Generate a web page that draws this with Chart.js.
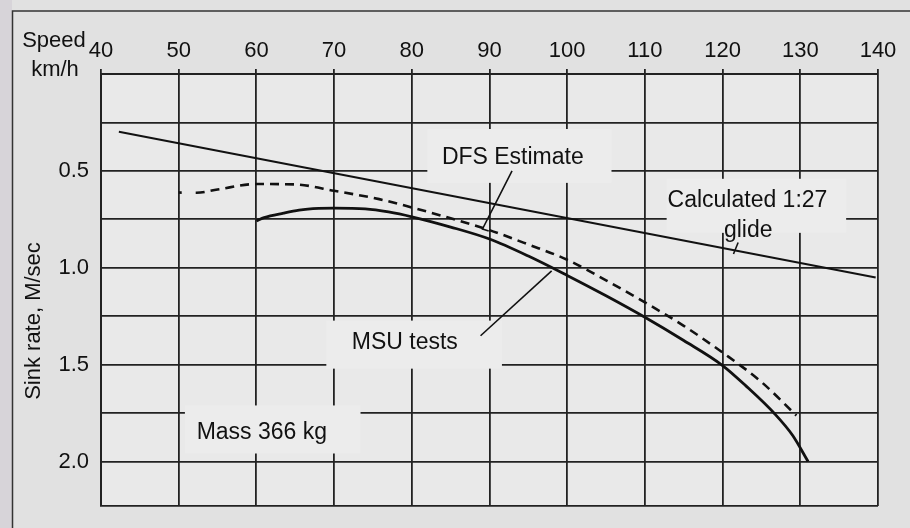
<!DOCTYPE html>
<html>
<head>
<meta charset="utf-8">
<title>Sink rate against speed</title>
<script src="https://cdn.jsdelivr.net/npm/chart.js@4"></script>
<style>
  html, body { margin: 0; padding: 0; background: #e1e1e1; }
  canvas { display: block; }
</style>
</head>
<body>
<canvas id="myChart" width="910" height="528"></canvas>
<script>
// tick labels
const speedTicks = [40, 50, 60, 70, 80, 90, 100, 110, 120, 130, 140];
const sinkTicks = [0.5, 1.0, 1.5, 2.0];

// MSU tests (solid curve)
const msuSpeed = [60, 61, 63.5, 65.5, 68, 70, 74, 77, 80, 85, 90, 95, 100, 105, 110, 115, 120, 123, 126.7, 129, 131];
const msuSink = [0.758, 0.741, 0.718, 0.703, 0.694, 0.692, 0.696, 0.712, 0.737, 0.79, 0.852, 0.94, 1.04, 1.145, 1.256, 1.376, 1.505, 1.61, 1.754, 1.865, 2.0];

// DFS estimate (dashed curve)
const dfsSpeed = [50, 52.3, 55, 60, 65, 70, 75.8, 80, 85, 90, 95, 100, 105, 110, 115, 120, 125, 129.5];
const dfsSink = [0.612, 0.613, 0.596, 0.568, 0.57, 0.603, 0.646, 0.689, 0.745, 0.806, 0.88, 0.959, 1.065, 1.179, 1.30, 1.438, 1.59, 1.763];

// calculated 1:27 glide (straight line)
const glideSpeed = [42.3, 139.7];
const glideSink = [0.298, 1.05];

// leader lines from the notes to the curves
const dfsLeadSpeed = [92.9, 89.1, 89.9];
const dfsLeadSink = [0.5, 0.80, 0.81];
const msuLeadSpeed = [88.85, 98.0];
const msuLeadSink = [1.351, 1.016];
const glideLeadSpeed = [122.0, 121.4];
const glideLeadSink = [0.87, 0.929];

function pts(xs, ys) {
  return xs.map((x, i) => ({ x: x, y: ys[i] }));
}

const ink = '#111111';
const gridInk = '#222222';
const font = '"Liberation Sans", Arial, sans-serif';

// pale patches behind the notes (in chart units)
const noteBoxes = [
  [82.0, 105.7, 0.284, 0.562],
  [112.8, 135.9, 0.541, 0.82],
  [69.0, 91.6, 1.273, 1.521],
  [50.8, 73.4, 1.711, 1.959]
];
const notes = [
  ['DFS Estimate', 93.0, 0.433],
  ['Calculated 1:27', 123.2, 0.652],
  ['glide', 123.3, 0.81],
  ['MSU tests', 79.1, 1.389],
  ['Mass 366 kg', 60.7, 1.851]
];

const paper = {
  id: 'paper',
  beforeDraw(chart) {
    const ctx = chart.ctx, a = chart.chartArea;
    ctx.save();
    ctx.fillStyle = '#e1e1e1';
    ctx.fillRect(0, 0, chart.width, chart.height);
    ctx.fillStyle = '#d7d4d9';
    ctx.fillRect(0, 0, 12, chart.height);
    ctx.fillStyle = '#e9e9e9';
    ctx.fillRect(a.left, a.top, a.right - a.left, a.bottom - a.top);
    ctx.strokeStyle = '#333333';
    ctx.lineWidth = 1.5;
    ctx.beginPath();
    ctx.moveTo(12.5, chart.height);
    ctx.lineTo(12.5, 11);
    ctx.lineTo(chart.width, 11);
    ctx.stroke();

    ctx.fillStyle = ink;
    ctx.font = '22px ' + font;
    ctx.textAlign = 'center';
    ctx.textBaseline = 'alphabetic';
    ctx.fillText('Speed', 54, 47);
    ctx.fillText('km/h', 55, 76);
    ctx.translate(34, 321);
    ctx.rotate(-Math.PI / 2);
    ctx.textBaseline = 'middle';
    ctx.fillText('Sink rate, M/sec', 0, 0);
    ctx.restore();
  },
  beforeDatasetsDraw(chart) {
    const ctx = chart.ctx, xs = chart.scales.x, ys = chart.scales.y;
    ctx.save();
    ctx.fillStyle = '#ececec';
    noteBoxes.forEach(b => {
      const x1 = xs.getPixelForValue(b[0]), x2 = xs.getPixelForValue(b[1]);
      const y1 = ys.getPixelForValue(b[2]), y2 = ys.getPixelForValue(b[3]);
      ctx.fillRect(x1, y1, x2 - x1, y2 - y1);
    });
    ctx.restore();
  },
  afterDatasetsDraw(chart) {
    const ctx = chart.ctx, xs = chart.scales.x, ys = chart.scales.y;
    ctx.save();
    ctx.fillStyle = ink;
    ctx.font = '23px ' + font;
    ctx.textAlign = 'center';
    ctx.textBaseline = 'middle';
    notes.forEach(n => {
      ctx.fillText(n[0], xs.getPixelForValue(n[1]), ys.getPixelForValue(n[2]));
    });
    ctx.restore();
  }
};

const dashes = [3, 14];
for (let i = 0; i < 80; i++) dashes.push(9, 6);

const ctx = document.getElementById('myChart');
new Chart(ctx, {
  type: 'line',
  data: {
    datasets: [
      { label: 'MSU tests', data: pts(msuSpeed, msuSink), borderColor: ink, borderWidth: 2.8, pointRadius: 0, cubicInterpolationMode: 'monotone' },
      { label: 'DFS Estimate', data: pts(dfsSpeed, dfsSink), borderColor: ink, borderWidth: 2.6, borderDash: dashes, pointRadius: 0, cubicInterpolationMode: 'monotone' },
      { label: 'Calculated 1:27 glide', data: pts(glideSpeed, glideSink), borderColor: ink, borderWidth: 2, pointRadius: 0 },
      { label: 'dfs lead', data: pts(dfsLeadSpeed, dfsLeadSink), borderColor: ink, borderWidth: 1.6, pointRadius: 0 },
      { label: 'msu lead', data: pts(msuLeadSpeed, msuLeadSink), borderColor: ink, borderWidth: 1.6, pointRadius: 0 },
      { label: 'glide lead', data: pts(glideLeadSpeed, glideLeadSink), borderColor: ink, borderWidth: 1.6, pointRadius: 0 }
    ]
  },
  options: {
    responsive: false,
    animation: false,
    layout: { padding: { top: 0, left: 0, right: 32, bottom: 22 } },
    plugins: { legend: { display: false }, tooltip: { enabled: false } },
    scales: {
      x: {
        type: 'linear',
        position: 'top',
        min: 40,
        max: 140,
        afterFit: (scale) => { scale.height = 74; },
        grid: { color: gridInk, lineWidth: 1.8, tickLength: 5, drawTicks: true },
        border: { color: gridInk, width: 2 },
        ticks: {
          stepSize: 10,
          autoSkip: false,
          maxRotation: 0,
          padding: 5,
          color: ink,
          font: { size: 22, family: font },
          callback: (v) => speedTicks.includes(v) ? String(v) : ''
        }
      },
      y: {
        type: 'linear',
        reverse: true,
        min: 0,
        max: 2.23,
        afterFit: (scale) => {
          scale.width = 101;
          scale.paddingTop = 0;
          scale.paddingBottom = 0;
        },
        grid: { color: gridInk, lineWidth: 1.8, drawTicks: false },
        border: { color: gridInk, width: 2 },
        ticks: {
          stepSize: 0.25,
          autoSkip: false,
          padding: 12,
          color: ink,
          font: { size: 22, family: font },
          callback: (v) => sinkTicks.some(t => Math.abs(t - v) < 1e-6) ? v.toFixed(1) : ''
        }
      }
    }
  },
  plugins: [paper]
});
</script>
</body>
</html>
